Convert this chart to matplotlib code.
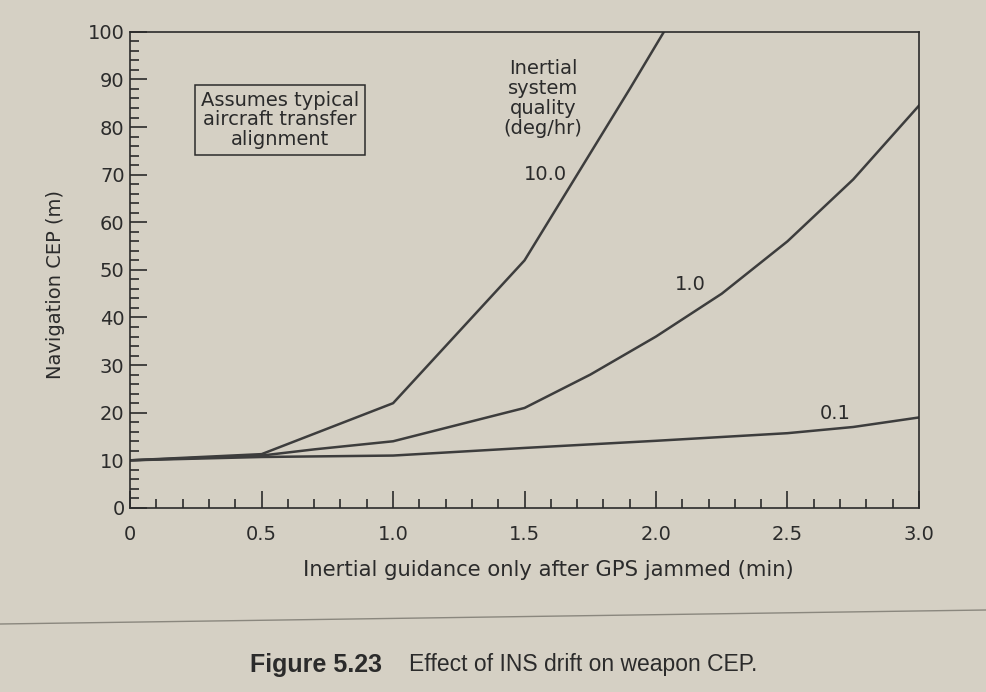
import numpy as np
import matplotlib.pyplot as plt
from matplotlib.ticker import MultipleLocator

# values (time in min, CEP in m)
t_high = [0.0, 0.5, 1.0, 1.5, 1.7, 1.9, 2.03]
cep_high = [10.0, 11.3, 22.0, 52.0, 70.0, 88.0, 100.0]

t_mid = [0.0, 0.5, 0.7, 1.0, 1.5, 1.75, 2.0, 2.25, 2.5, 2.75, 3.0]
cep_mid = [10.0, 11.0, 12.3, 14.0, 21.0, 28.0, 36.0, 45.0, 56.0, 69.0, 84.5]

t_low = [0.0, 0.5, 1.0, 1.5, 2.0, 2.5, 2.75, 3.0]
cep_low = [10.0, 10.7, 11.0, 12.6, 14.1, 15.7, 17.0, 19.0]

paper = '#d5d0c4'
ink = '#2b2b2b'
line_col = '#3d3d3d'

fig = plt.figure(figsize=(9.86, 6.92), dpi=100, facecolor=paper)
ax = fig.add_axes([0.132, 0.266, 0.80, 0.688])
ax.set_facecolor(paper)

ax.plot(t_high, cep_high, color=line_col, lw=1.8)
ax.plot(t_mid, cep_mid, color=line_col, lw=1.8)
ax.plot(t_low, cep_low, color=line_col, lw=1.8)

ax.set_xlim(0, 3.0)
ax.set_ylim(0, 100)

ax.xaxis.set_minor_locator(MultipleLocator(0.1))
ax.yaxis.set_major_locator(MultipleLocator(10))
ax.yaxis.set_minor_locator(MultipleLocator(2))
ax.set_xticks([0, 0.5, 1.0, 1.5, 2.0, 2.5, 3.0])
ax.set_xticklabels(['0', '0.5', '1.0', '1.5', '2.0', '2.5', '3.0'])

ax.tick_params(which='both', direction='in', colors=ink, labelsize=14,
               top=False, right=False)
ax.tick_params(which='major', length=12, width=1.2)
ax.tick_params(which='minor', length=6.5, width=1.2)
ax.tick_params(axis='x', pad=12)
ax.tick_params(axis='y', pad=4)

for s in ax.spines.values():
    s.set_color(ink)
    s.set_linewidth(1.2)

ax.set_xlabel('Inertial guidance only after GPS jammed (min)', fontsize=15.2,
              color=ink)
ax.xaxis.set_label_coords(0.53, -0.11)
ax.set_ylabel('Navigation CEP (m)', fontsize=14, color=ink)
ax.yaxis.set_label_coords(-0.083, 0.47)

# annotations
ax.text(1.57, 86, 'Inertial\nsystem\nquality\n(deg/hr)', ha='center', va='center',
        fontsize=14, color=ink, linespacing=1.05)
ax.text(1.58, 70, '10.0', ha='center', va='center', fontsize=14, color=ink)
ax.text(2.13, 47, '1.0', ha='center', va='center', fontsize=14, color=ink)
ax.text(2.68, 19.8, '0.1', ha='center', va='center', fontsize=14, color=ink)
ax.text(0.57, 81.5, 'Assumes typical\naircraft transfer\nalignment', ha='center',
        va='center', fontsize=14, color=ink, linespacing=1.05,
        bbox=dict(boxstyle='square,pad=0.3', facecolor=paper, edgecolor=ink, lw=1.1))

# page rule and caption
fig.add_artist(plt.Line2D([0, 1], [1 - 624 / 692, 1 - 610 / 692],
                          transform=fig.transFigure, color='#8a877e', lw=1.0))
fig.text(0.254, 1 - 665 / 692, 'Figure 5.23', fontsize=18, fontweight='bold',
         color=ink, va='center', family='Liberation Sans')
fig.text(0.415, 1 - 665 / 692, 'Effect of INS drift on weapon CEP.', fontsize=16.5,
         color=ink, va='center', family='Liberation Sans')

fig.savefig('out.png', dpi=100, facecolor=paper)
